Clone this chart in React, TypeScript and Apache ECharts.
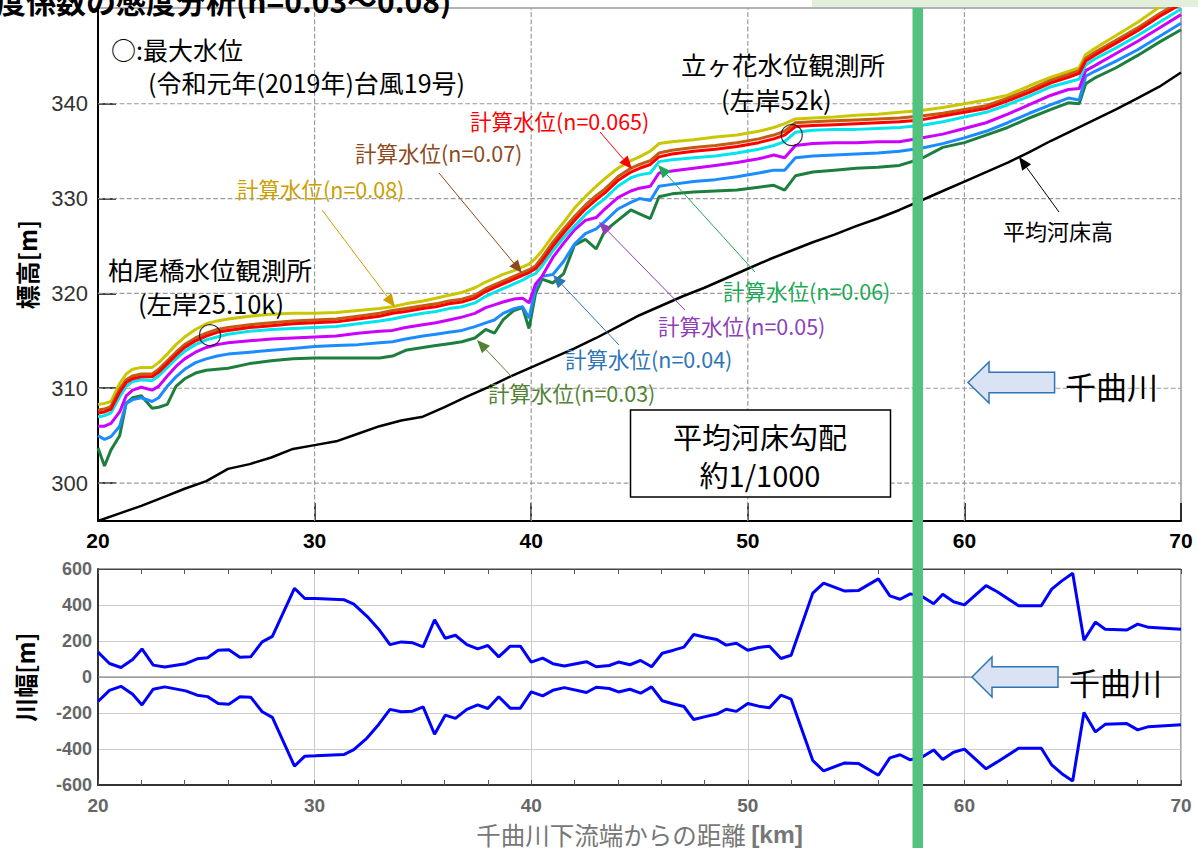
import React, { useEffect, useRef } from "react";
import * as echarts from "echarts";

// ---------- data ----------
const kmPts = [20, 20.3, 20.6, 21.0, 21.3, 21.6, 22.0, 22.5, 22.8, 23.2, 23.6, 24.0, 24.5, 25.0, 25.5, 26.0, 27.0, 28.0, 29.0, 30.0, 31.0, 32.0, 33.0, 33.6, 34.2, 35.0, 35.6, 36.2, 36.8, 37.4, 37.9, 38.3, 38.7, 39.2, 39.6, 39.9, 40.2, 40.5, 41.0, 41.5, 42.0, 42.5, 43.0, 43.4, 44.0, 44.6, 45.0, 45.5, 45.9, 46.5, 47.5, 48.5, 49.5, 50.5, 51.2, 51.7, 52.2, 53.0, 54.0, 55.0, 56.0, 57.0, 58.0, 59.0, 60.0, 61.0, 62.0, 63.0, 64.0, 64.8, 65.3, 65.6, 66.0, 67.0, 68.0, 69.0, 70.0];

const wlN008 = [308.3, 308.4, 308.6, 310.5, 311.5, 312.0, 312.2, 312.2, 312.7, 313.6, 314.6, 315.4, 316.2, 316.8, 317.1, 317.3, 317.6, 317.8, 317.9, 317.9, 318.0, 318.2, 318.4, 318.6, 318.9, 319.2, 319.5, 319.8, 320.1, 320.6, 321.2, 321.6, 322.0, 322.4, 322.8, 323.1, 323.7, 324.5, 326.1, 327.5, 329.0, 330.2, 331.3, 332.1, 333.2, 334.0, 334.4, 335.0, 335.8, 336.0, 336.2, 336.5, 336.7, 337.1, 337.5, 337.9, 338.4, 338.5, 338.6, 338.8, 338.9, 339.1, 339.3, 339.6, 340.0, 340.4, 340.9, 341.9, 342.8, 343.4, 343.8, 345.2, 345.8, 347.2, 348.6, 350.2, 351.5];
const wlN007 = [307.7, 307.8, 308.1, 309.9, 310.9, 311.3, 311.5, 311.5, 312.0, 312.9, 313.8, 314.6, 315.3, 315.8, 316.2, 316.4, 316.7, 316.9, 317.1, 317.2, 317.3, 317.6, 317.9, 318.2, 318.4, 318.7, 318.9, 319.2, 319.4, 319.8, 320.5, 320.9, 321.3, 321.8, 322.2, 322.5, 322.9, 323.8, 325.4, 326.8, 328.1, 329.3, 330.3, 331.0, 332.3, 333.2, 333.6, 334.0, 334.8, 335.1, 335.4, 335.6, 335.9, 336.3, 336.7, 337.1, 338.0, 338.1, 338.2, 338.3, 338.4, 338.5, 338.7, 339.0, 339.4, 339.8, 340.6, 341.5, 342.5, 343.1, 343.5, 344.8, 345.4, 346.7, 348.0, 349.5, 350.8];
const wlN0065 = [307.4, 307.5, 307.8, 309.6, 310.6, 311.0, 311.2, 311.2, 311.7, 312.6, 313.5, 314.3, 315.0, 315.5, 315.9, 316.1, 316.4, 316.6, 316.8, 316.9, 317.0, 317.3, 317.6, 317.9, 318.1, 318.4, 318.6, 318.9, 319.1, 319.5, 320.2, 320.6, 321.0, 321.5, 321.9, 322.2, 322.6, 323.4, 325.0, 326.4, 327.7, 328.9, 329.9, 330.6, 331.9, 332.8, 333.2, 333.6, 334.4, 334.7, 335.0, 335.2, 335.5, 335.9, 336.3, 336.7, 337.6, 337.7, 337.8, 337.9, 338.0, 338.1, 338.3, 338.7, 339.1, 339.5, 340.3, 341.2, 342.2, 342.8, 343.2, 344.5, 345.1, 346.4, 347.7, 349.2, 350.5];
const wlN006 = [307.0, 307.1, 307.4, 309.1, 310.2, 310.7, 310.9, 310.8, 311.3, 312.2, 313.1, 313.9, 314.6, 315.1, 315.4, 315.7, 316.0, 316.2, 316.3, 316.4, 316.5, 316.8, 317.1, 317.3, 317.6, 317.9, 318.1, 318.4, 318.6, 319.0, 319.7, 320.1, 320.5, 321.0, 321.4, 321.8, 322.1, 322.9, 324.5, 325.9, 327.1, 328.3, 329.3, 330.0, 331.3, 332.2, 332.5, 332.7, 333.9, 334.1, 334.3, 334.5, 334.8, 335.2, 335.6, 336.0, 337.0, 337.2, 337.3, 337.3, 337.4, 337.5, 337.7, 338.1, 338.6, 339.1, 339.9, 340.8, 341.8, 342.3, 342.6, 344.1, 344.7, 345.9, 347.2, 348.6, 350.0];
const wlN005 = [306.0, 306.0, 306.3, 307.5, 309.2, 309.8, 310.1, 309.8, 310.2, 311.3, 312.3, 313.1, 313.8, 314.3, 314.6, 314.8, 315.0, 315.2, 315.3, 315.4, 315.5, 315.8, 316.0, 316.1, 316.4, 316.7, 316.9, 317.2, 317.5, 317.9, 318.5, 318.8, 319.1, 319.4, 319.5, 319.0, 321.0, 321.8, 323.8, 325.3, 326.7, 327.7, 328.0, 328.9, 330.1, 330.8, 331.1, 331.3, 332.7, 332.9, 333.2, 333.5, 333.8, 334.2, 334.6, 334.3, 335.6, 335.8, 335.9, 335.9, 336.0, 336.0, 336.4, 336.8, 337.4, 338.0, 338.9, 339.9, 340.9, 341.5, 341.6, 343.5, 344.0, 345.3, 346.6, 348.0, 349.4];
const wlN004 = [305.0, 304.6, 304.9, 306.0, 308.4, 308.8, 309.0, 308.6, 309.0, 310.2, 311.2, 312.0, 312.7, 313.1, 313.4, 313.6, 313.8, 314.0, 314.2, 314.4, 314.5, 314.6, 314.8, 314.9, 315.2, 315.5, 315.7, 315.9, 316.1, 316.5, 316.9, 317.2, 317.9, 318.4, 318.6, 317.4, 320.5, 321.8, 322.0, 323.4, 325.2, 326.3, 326.8, 327.6, 328.9, 329.6, 330.0, 329.8, 331.3, 331.5, 331.8, 332.0, 332.3, 332.7, 333.0, 333.0, 334.3, 334.5, 334.6, 334.7, 334.8, 335.0, 335.3, 335.8, 336.4, 337.1, 338.0, 339.0, 339.9, 340.6, 340.4, 342.9, 343.4, 344.5, 345.7, 347.1, 348.5];
const wlN003 = [303.7, 301.8, 303.5, 305.0, 308.4, 309.0, 309.2, 307.9, 308.0, 308.3, 310.2, 311.0, 311.6, 311.9, 312.0, 312.1, 312.6, 312.9, 313.1, 313.2, 313.2, 313.2, 313.2, 313.4, 314.0, 314.3, 314.5, 314.7, 314.9, 315.3, 316.2, 315.8, 317.2, 318.2, 318.5, 316.3, 320.0, 321.5, 321.1, 322.1, 325.1, 325.7, 324.7, 326.6, 327.7, 328.8, 328.4, 327.9, 330.2, 330.5, 330.7, 330.8, 330.9, 331.2, 331.4, 330.9, 332.4, 332.8, 333.0, 333.2, 333.3, 333.5, 334.2, 335.4, 335.9, 336.7, 337.5, 338.5, 339.4, 340.1, 340.0, 342.1, 342.7, 343.8, 345.1, 346.5, 347.8];

const bedKm = [20, 21, 22, 23, 24, 25, 26, 27, 28, 29, 30, 31, 32, 33, 34, 35, 36, 37, 38, 39, 40, 41, 42, 43, 44, 45, 46, 47, 48, 49, 50, 51, 52, 53, 54, 55, 56, 57, 58, 59, 60, 61, 62, 63, 64, 65, 66, 67, 68, 69, 70];
const bedElev = [296.0, 296.8, 297.6, 298.5, 299.4, 300.2, 301.5, 302.0, 302.7, 303.6, 304.0, 304.4, 305.2, 306.0, 306.6, 307.0, 308.0, 309.1, 310.1, 311.2, 312.2, 313.2, 314.2, 315.3, 316.5, 317.7, 318.7, 319.7, 320.6, 321.6, 322.6, 323.6, 324.5, 325.4, 326.2, 327.1, 327.9, 328.8, 329.8, 330.8, 331.8, 332.8, 333.8, 334.9, 336.1, 337.2, 338.3, 339.4, 340.6, 341.8, 343.3];

const maxWlKm = [25.17, 52.03];
const maxWlVal = [315.6, 336.7];

const widthKm = [20, 20.53, 21.06, 21.6, 22.03, 22.55, 23.08, 24.05, 24.58, 25.06, 25.55, 26.04, 26.55, 27.05, 27.58, 28.05, 29.07, 29.55, 30.04, 31.37, 31.81, 32.42, 32.95, 33.48, 34.0, 34.53, 35.01, 35.54, 36.03, 36.5, 37.03, 37.53, 38.0, 38.5, 39.03, 39.5, 40.0, 40.53, 41.0, 41.53, 42.55, 43.0, 43.6, 44.03, 44.56, 45.05, 45.56, 46.05, 46.57, 47.05, 47.5, 48.04, 48.57, 49.0, 49.47, 50.0, 50.5, 51.0, 51.53, 52.0, 53.0, 53.5, 54.45, 55.1, 56.03, 56.56, 57.03, 57.5, 58.05, 58.58, 59.0, 59.5, 60.0, 61.0, 61.5, 62.5, 63.55, 64.03, 64.5, 65.0, 65.52, 66.05, 66.5, 67.5, 68.0, 68.5, 70.0];
const widthUpper = [138, 75, 53, 97, 156, 66, 55, 74, 101, 107, 149, 151, 110, 112, 195, 226, 493, 436, 436, 429, 405, 337, 267, 180, 195, 190, 167, 318, 215, 232, 180, 156, 175, 112, 171, 171, 83, 105, 74, 61, 85, 57, 64, 83, 68, 92, 57, 132, 149, 166, 236, 221, 208, 177, 188, 149, 164, 171, 103, 121, 466, 521, 478, 480, 545, 451, 432, 462, 447, 407, 460, 418, 401, 508, 475, 396, 396, 488, 534, 576, 204, 305, 265, 261, 294, 276, 265];
const widthLower = [-136, -74, -52, -96, -155, -68, -55, -77, -101, -109, -147, -151, -110, -112, -193, -224, -495, -440, -438, -430, -403, -339, -265, -180, -193, -190, -166, -318, -212, -230, -180, -155, -175, -110, -173, -173, -83, -105, -74, -59, -86, -57, -64, -83, -68, -90, -55, -132, -150, -164, -236, -220, -206, -179, -191, -147, -162, -171, -101, -123, -464, -522, -478, -480, -546, -449, -432, -460, -445, -405, -458, -418, -401, -510, -473, -396, -396, -488, -537, -578, -197, -305, -263, -259, -294, -276, -265];

const elevTicks = [300, 310, 320, 330, 340];
const kmTicks = [30, 40, 50, 60];
const kmRange = [20, 70];
const elevRange = [296, 350.1];

const CJK = '"Noto Sans CJK JP", "Noto Sans", sans-serif';
const NUM = '"Liberation Sans", Arial, sans-serif';

function arrowEls(x1: number, y1: number, x2: number, y2: number, color: string, lw = 1) {
  const ang = Math.atan2(y2 - y1, x2 - x1);
  const L = 13, W = 5.5;
  const bx = x2 - L * Math.cos(ang), by = y2 - L * Math.sin(ang);
  const px = -Math.sin(ang) * W, py = Math.cos(ang) * W;
  return [
    { type: "line", z: 50, shape: { x1, y1, x2: bx, y2: by }, style: { stroke: color, lineWidth: lw } },
    { type: "polygon", z: 50, shape: { points: [[x2, y2], [bx + px, by + py], [bx - px, by - py]] }, style: { fill: color } },
  ];
}

function txt(text: string, x: number, y: number, size: number, color: string, align = "left", bold = false) {
  return {
    type: "text", x, y, z: 60,
    style: {
      text, fill: color, fontSize: size, fontFamily: CJK, fontWeight: bold ? "bold" : "normal",
      textAlign: align, align, textVerticalAlign: "middle", verticalAlign: "middle",
    },
  };
}

function blockArrow(tipX: number, midY: number, headX: number, endX: number, headH: number, shaftH: number) {
  return {
    type: "polygon", z: 55,
    shape: {
      points: [
        [tipX, midY], [headX, midY - headH], [headX, midY - shaftH], [endX, midY - shaftH],
        [endX, midY + shaftH], [headX, midY + shaftH], [headX, midY + headH],
      ],
    },
    style: { fill: "#dae3f3", stroke: "#2e75b6", lineWidth: 1.5 },
  };
}

const wlSeries = [
  { name: "n=0.03", data: wlN003, color: "#1e7e3e" },
  { name: "n=0.04", data: wlN004, color: "#1a8cff" },
  { name: "n=0.05", data: wlN005, color: "#cc00ff" },
  { name: "n=0.06", data: wlN006, color: "#00e5ee" },
  { name: "n=0.08", data: wlN008, color: "#c9c700" },
  { name: "n=0.07", data: wlN007, color: "#c55a11" },
  { name: "n=0.065", data: wlN0065, color: "#ff0000" },
];

const gridStyle = { type: "dashed", dashOffset: 0, color: "#9a9a9a", width: 1.2 };

export default function App() {
  const ref = useRef<HTMLDivElement>(null);
  useEffect(() => {
    if (!ref.current) return;
    const chart = echarts.init(ref.current, null, { renderer: "svg" });
    const graphic: any[] = [
      txt("度係数の感度分析(n=0.03～0.08)", -4, 0, 30, "#000", "left", true),
      { type: "rect", z: 40, shape: { x: 812, y: 0, width: 386, height: 7 }, style: { fill: "#e2efda" } },
      { type: "rect", z: 100, shape: { x: 912.5, y: 8, width: 10.5, height: 840 }, style: { fill: "#52c27e" } },
      txt("○:最大水位", 111, 49, 25, "#000"),
      txt("(令和元年(2019年)台風19号)", 148, 82, 25, "#000"),
      txt("柏尾橋水位観測所", 108, 268, 25.5, "#000"),
      txt("(左岸25.10k)", 138, 302, 25.5, "#000"),
      txt("立ヶ花水位観測所", 681, 63, 25.5, "#000"),
      txt("(左岸52k)", 721, 98, 25.5, "#000"),
      txt("計算水位(n=0.065)", 470, 120, 21.5, "#ff0000"),
      txt("計算水位(n=0.07)", 355, 152, 21.5, "#8c4a1c"),
      txt("計算水位(n=0.08)", 237, 188, 21.5, "#c9a000"),
      txt("計算水位(n=0.06)", 723, 290, 21.5, "#1aaa55"),
      txt("計算水位(n=0.05)", 658, 325, 21.5, "#8e3fb8"),
      txt("計算水位(n=0.04)", 565, 358, 21.5, "#2e75b6"),
      txt("計算水位(n=0.03)", 488, 392, 21.5, "#548235"),
      txt("平均河床高", 1003, 230, 22, "#000"),
      ...arrowEls(600, 132, 632, 169, "#ff0000"),
      ...arrowEls(439, 173, 522, 273, "#8c4a1c"),
      ...arrowEls(322, 210, 395, 307, "#c9a000"),
      ...arrowEls(755, 272, 658, 165, "#1aaa55"),
      ...arrowEls(685, 310, 599, 222, "#8e3fb8"),
      ...arrowEls(619, 345, 553, 275, "#2e75b6"),
      ...arrowEls(512, 377, 477, 340, "#548235"),
      ...arrowEls(1059, 212, 1019, 157, "#000"),
      { type: "rect", z: 55, shape: { x: 630.5, y: 410, width: 260, height: 87 }, style: { fill: "#fff", stroke: "#000", lineWidth: 1.5 } },
      txt("平均河床勾配", 760, 436, 29, "#000", "center"),
      txt("約1/1000", 760, 474, 29, "#000", "center"),
      blockArrow(968, 382.5, 989, 1054.6, 20.5, 10.3),
      txt("千曲川", 1065, 385, 31, "#000"),
      blockArrow(972, 677, 992, 1058, 20, 10.3),
      txt("千曲川", 1069, 681, 31, "#000"),
    ];

    const series: any[] = [
      ...elevTicks.map((v) => ({
        type: "line", name: "grid-y" + v, xAxisIndex: 0, yAxisIndex: 0, silent: true, z: 1,
        data: kmRange.map((k) => [k, v]), showSymbol: false, symbol: "none",
        lineStyle: gridStyle,
      })),
      ...kmTicks.map((k) => ({
        type: "line", name: "grid-x" + k, xAxisIndex: 0, yAxisIndex: 0, silent: true, z: 1,
        data: elevRange.map((v) => [k, v]), showSymbol: false, symbol: "none",
        lineStyle: gridStyle,
      })),
      {
        type: "line", name: "zero", xAxisIndex: 1, yAxisIndex: 1, silent: true, z: 1,
        data: kmRange.map((k) => [k, 0]), showSymbol: false, symbol: "none",
        lineStyle: { color: "#777", width: 1.2 },
      },
      {
        type: "line", name: "平均河床高", xAxisIndex: 0, yAxisIndex: 0,
        data: bedKm.map((k, i) => [k, bedElev[i]]), showSymbol: false, symbol: "none",
        lineStyle: { color: "#000", width: 2.5 }, itemStyle: { color: "#000" },
      },
      ...wlSeries.map((s) => ({
        type: "line", name: s.name, xAxisIndex: 0, yAxisIndex: 0,
        data: kmPts.map((k, i) => [k, s.data[i]]), showSymbol: false, symbol: "none",
        lineStyle: { color: s.color, width: 3 }, itemStyle: { color: s.color },
      })),
      {
        type: "scatter", name: "最大水位", xAxisIndex: 0, yAxisIndex: 0,
        data: maxWlKm.map((k, i) => [k, maxWlVal[i]]), symbol: "circle", symbolSize: 21,
        itemStyle: { color: "rgba(0,0,0,0)", borderColor: "#000", borderWidth: 1.2 }, z: 10,
      },
      {
        type: "line", name: "右岸", xAxisIndex: 1, yAxisIndex: 1,
        data: widthKm.map((k, i) => [k, widthUpper[i]]), showSymbol: false, symbol: "none",
        lineStyle: { color: "#0000ff", width: 3 }, itemStyle: { color: "#0000ff" },
      },
      {
        type: "line", name: "左岸", xAxisIndex: 1, yAxisIndex: 1,
        data: widthKm.map((k, i) => [k, widthLower[i]]), showSymbol: false, symbol: "none",
        lineStyle: { color: "#0000ff", width: 3 }, itemStyle: { color: "#0000ff" },
      },
    ];

    chart.setOption({
      animation: false,
      backgroundColor: "#fff",
      grid: [
        { left: 98, top: 8, width: 1083, height: 513, show: true, borderColor: "#666", borderWidth: 1, containLabel: false },
        { left: 98, top: 569, width: 1083, height: 217, show: true, borderColor: "#444", borderWidth: 1, containLabel: false },
      ],
      xAxis: [
        {
          type: "value", gridIndex: 0, min: 20, max: 70, interval: 10,
          axisLine: { show: true, onZero: false, lineStyle: { color: "#000", width: 2 } },
          axisTick: { show: true, inside: true, length: 18, lineStyle: { color: "#000", width: 1.5 } },
          axisLabel: { color: "#000", fontWeight: "bold", fontSize: 21, fontFamily: NUM, margin: 9 },
          splitLine: { show: false },
        },
        {
          type: "value", gridIndex: 1, min: 20, max: 70, interval: 10,
          axisLine: { show: true, onZero: false, lineStyle: { color: "#333", width: 2 } },
          axisTick: { show: true, inside: true, length: 5, lineStyle: { color: "#555" } },
          minorTick: { show: true, splitNumber: 5, length: 5, lineStyle: { color: "#555" } },
          axisLabel: { color: "#666", fontWeight: "bold", fontSize: 19, fontFamily: NUM, margin: 11 },
          splitLine: { show: true, lineStyle: { color: "#ccc", width: 1 } },
          name: "{a|千曲川下流端からの距離 }{b|[km]}",
          nameLocation: "middle", nameGap: 37,
          nameTextStyle: {
            rich: {
              a: { fontSize: 24.5, color: "#777", fontFamily: CJK },
              b: { fontSize: 24.5, color: "#777", fontWeight: "bold", fontFamily: NUM },
            },
          },
        },
        {
          type: "value", gridIndex: 1, min: 20, max: 70, interval: 10, position: "top",
          axisLine: { show: true, onZero: false, lineStyle: { color: "#444", width: 1 } },
          axisTick: { show: true, inside: true, length: 5, lineStyle: { color: "#555" } },
          minorTick: { show: true, splitNumber: 5, length: 5, lineStyle: { color: "#555" } },
          axisLabel: { show: false },
          splitLine: { show: false },
        },
      ],
      yAxis: [
        {
          type: "value", gridIndex: 0, min: 296, max: 350.1,
          axisLine: { show: true, onZero: false, lineStyle: { color: "#000", width: 2 } },
          axisTick: { show: true, inside: true, length: 18, customValues: elevTicks, lineStyle: { color: "#000", width: 1.5 } },
          axisLabel: { customValues: elevTicks, color: "#333", fontSize: 22, fontFamily: NUM, margin: 10 },
          splitLine: { show: false },
          name: "標高[m]", nameLocation: "middle", nameGap: 60,
          nameTextStyle: { fontWeight: "bold", fontSize: 24, color: "#000", fontFamily: CJK },
        },
        {
          type: "value", gridIndex: 1, min: -600, max: 600, interval: 200,
          axisLine: { show: true, onZero: false, lineStyle: { color: "#333", width: 2 } },
          axisTick: { show: false },
          axisLabel: { color: "#666", fontWeight: "bold", fontSize: 18, fontFamily: NUM, margin: 6 },
          splitLine: { show: true, lineStyle: { color: "#ccc", width: 1 } },
          name: "川幅[m]", nameLocation: "middle", nameGap: 62,
          nameTextStyle: { fontWeight: "bold", fontSize: 24, color: "#000", fontFamily: CJK },
        },
      ],
      series,
      graphic,
    });
    return () => chart.dispose();
  }, []);
  return (
    <div
      ref={ref}
      style={{ position: "absolute", left: 0, top: 0, width: 1198, height: 848, background: "#fff" }}
    />
  );
}
